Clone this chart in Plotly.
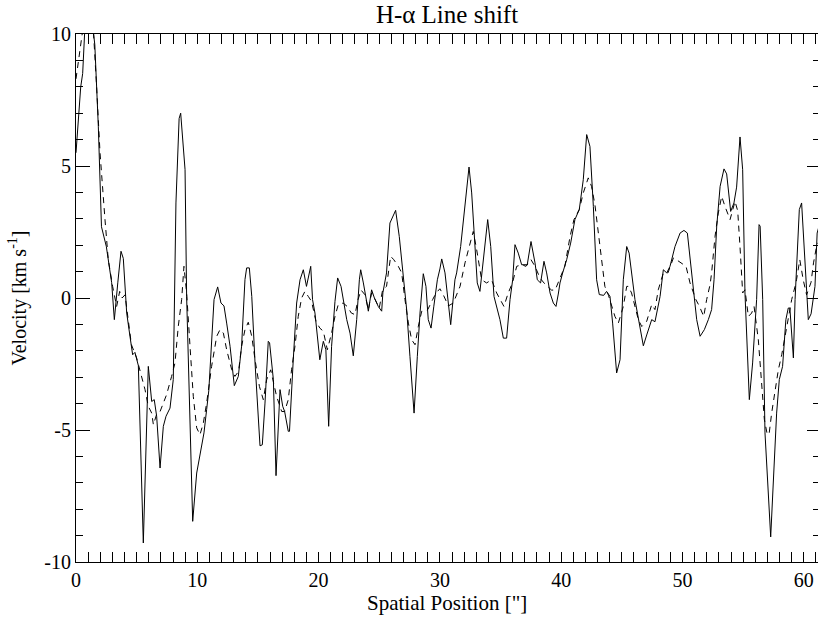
import plotly.graph_objects as go

# Solid line: observed H-alpha line shift
solid_x = [0.0, 0.2, 0.39, 0.55, 0.75, 1.0, 1.3, 1.55, 1.84, 2.1, 2.5, 2.94, 3.16, 3.45, 3.71, 3.9,
           4.18, 4.45, 4.67, 4.86, 5.14, 5.55, 5.96, 6.24, 6.45, 6.65, 6.93, 7.2, 7.42, 7.75, 8.02,
           8.24, 8.5, 8.63, 8.99, 9.12, 9.62, 9.95, 10.22, 10.55, 10.77, 10.95, 11.38, 11.68, 11.95,
           12.2, 12.42, 12.7, 13.05, 13.38, 13.65, 13.93, 14.07, 14.29, 14.49, 14.76, 15.17, 15.36,
           15.58, 15.85, 15.96, 16.27, 16.49, 16.82, 17.04, 17.2, 17.5, 17.6, 17.91, 18.19, 18.47,
           18.74, 19.0, 19.35, 19.5, 19.7, 20.1, 20.39, 20.6, 20.83, 21.07, 21.35, 21.57, 21.85,
           22.32, 22.59, 22.86, 23.14, 23.36, 23.47, 23.69, 23.8, 24.1, 24.37, 24.6, 24.92, 25.2,
           25.3, 25.6, 25.88, 26.1, 26.35, 26.65, 26.98, 27.26, 27.53, 27.87, 28.14, 28.36, 28.63,
           28.85, 29.04, 29.27, 29.5, 29.79, 30.0, 30.15, 30.42, 30.6, 30.89, 31.24, 31.38, 31.71,
           32.07, 32.4, 32.62, 32.89, 33.08, 33.3, 33.63, 33.94, 34.19, 34.46, 34.95, 35.23, 35.5,
           35.78, 36.0, 36.19, 36.46, 36.74, 37.2, 37.51, 37.84, 38.03, 38.3, 38.58, 38.8, 39.08,
           39.35, 39.57, 39.76, 39.9, 40.12, 40.45, 40.78, 41.13, 41.49, 41.82, 42.1, 42.37, 42.65,
           42.92, 43.14, 43.5, 43.74, 44.02, 44.24, 44.57, 44.85, 45.12, 45.4, 45.6, 46.08, 46.36,
           46.77, 47.05, 47.46, 47.73, 48.15, 48.42, 48.7, 48.97, 49.38, 49.8, 50.12, 50.4, 50.62,
           50.9, 51.17, 51.45, 51.8, 52.13, 52.4, 52.6, 52.82, 53.1, 53.42, 53.64, 53.97, 54.24,
           54.46, 54.74, 54.96, 55.15, 55.51, 55.78, 56.11, 56.31, 56.4, 56.61, 56.8, 57.27, 57.48,
           57.76, 57.98, 58.25, 58.52, 58.72, 58.85, 59.14, 59.28, 59.63, 59.82, 60.04, 60.23,
           60.37, 60.6, 60.92, 61.1, 61.3]
solid_y = [5.5, 7.0, 8.0, 8.5, 10.4, 10.8, 10.6, 9.6, 6.5, 2.7, 1.95, 0.58, -0.82, 0.6, 1.77, 1.5,
           -0.57, -1.45, -2.15, -2.06, -2.56, -9.28, -2.59, -3.92, -3.85, -4.48, -6.44, -4.86, -4.48,
           -4.17, -3.09, 3.6, 6.8, 7.0, 4.86, 0.06, -8.46, -6.63, -5.87, -5.11, -4.23, -3.5, -0.06,
           0.42, -0.19, -0.3, -0.95, -1.83, -3.32, -2.97, -1.83, 0.7, 1.14, 1.14, 0.06, -2.46, -5.6,
           -5.56, -3.98, -1.64, -1.7, -3.09, -6.73, -3.47, -4.1, -4.3, -5.05, -5.05, -2.34, -0.19,
           0.69, 1.07, 0.44, 1.2, -0.06, -0.57, -2.34, -1.64, -1.96, -4.86, -1.83, -0.13, 0.76, 0.44,
           -0.82, -1.33, -2.19, -0.82, 0.69, 1.07, 0.57, 0.3, -0.5, 0.31, 0.0, -0.32, -0.5, 0.2,
           0.95, 2.84, 3.1, 3.32, 2.33, 0.69, -0.44, -2.21, -4.36, -2.21, -0.57, 0.92, 0.44, -0.82,
           -1.14, -0.31, 0.69, 1.1, 1.48, 0.95, 0.2, -1.01, 0.69, 0.95, 1.95, 3.47, 4.96, 3.98, 1.7,
           0.57, 0.25, 1.7, 2.97, 1.95, 0.06, -0.82, -1.52, -1.52, -0.06, 0.69, 2.02, 1.7, 1.26,
           1.26, 2.14, 1.33, 0.69, 0.57, 1.39, 0.95, 0.19, -0.19, -0.32, 0.15, 0.57, 0.95, 1.45,
           2.08, 2.97, 3.35, 4.48, 6.19, 5.74, 3.47, 0.69, 0.13, 0.1, 0.25, 0.06, -0.95, -2.84,
           -2.34, 0.69, 1.95, 1.7, -0.06, -0.82, -1.81, -1.4, -0.82, -0.9, 0.06, 1.07, 0.95, 1.2,
           1.95, 2.46, 2.56, 2.46, 1.45, 0.44, -0.82, -1.45, -1.2, -0.82, -0.44, 0.69, 2.71, 4.23,
           4.89, 4.7, 3.28, 3.6, 4.2, 6.1, 4.86, 0.19, -3.85, -2.46, -0.06, 2.78, 2.72, -0.06,
           -5.11, -9.05, -6.88, -4.36, -3.09, -2.59, -0.82, -0.38, -0.38, -2.27, -0.06, 3.35, 3.6,
           1.7, 0.19, -0.82, -0.6, 0.44, 2.46, 2.8]

# Dashed line: comparison shift
dashed_x = [0.0, 0.3, 0.6, 1.0, 1.4, 1.7, 1.98, 2.39, 2.66, 3.02, 3.35, 3.6, 3.8, 4.04, 4.3, 4.57,
            5.0, 5.4, 5.69, 5.96, 6.24, 6.38, 6.65, 6.93, 7.2, 7.47, 7.88, 8.16, 8.43, 8.71, 8.9,
            9.12, 9.4, 9.67, 9.95, 10.22, 10.5, 10.77, 11.18, 11.6, 11.87, 12.15, 12.42, 12.84,
            13.1, 13.4, 13.65, 13.93, 14.2, 14.49, 14.76, 15.12, 15.44, 15.72, 16.05, 16.27, 16.54,
            16.96, 17.2, 17.5, 17.77, 18.05, 18.32, 18.6, 18.87, 19.15, 19.42, 19.78, 20.1, 20.39,
            20.72, 21.07, 21.35, 21.62, 22.02, 22.36, 22.7, 23.0, 23.25, 23.5, 23.83, 24.1, 24.37,
            24.6, 25.0, 25.28, 25.6, 25.94, 26.2, 26.57, 26.85, 27.12, 27.4, 27.67, 27.95, 28.22,
            28.5, 28.77, 29.0, 29.4, 29.7, 30.0, 30.3, 30.7, 31.1, 31.66, 32.07, 32.42, 32.75, 33.03,
            33.44, 33.85, 34.26, 34.68, 34.95, 35.28, 35.6, 36.0, 36.33, 36.74, 37.1, 37.51, 37.84,
            38.25, 38.58, 38.9, 39.2, 39.5, 39.76, 40.04, 40.3, 40.73, 41.05, 41.49, 41.82, 42.23,
            42.5, 42.78, 43.05, 43.33, 43.6, 43.9, 44.16, 44.43, 44.71, 45.12, 45.4, 45.54, 45.8,
            46.08, 46.36, 46.64, 47.05, 47.46, 47.73, 48.0, 48.42, 48.8, 49.25, 49.5, 49.93, 50.29,
            50.62, 50.9, 51.1, 51.4, 51.75, 51.99, 52.27, 52.4, 52.68, 52.95, 53.23, 53.5, 53.92,
            54.33, 54.55, 54.74, 54.96, 55.15, 55.43, 55.7, 55.9, 56.25, 56.52, 56.75, 56.99, 57.15,
            57.35, 57.63, 57.9, 58.18, 58.45, 58.72, 59.0, 59.28, 59.4, 59.67, 59.95, 60.23, 60.37,
            60.6, 60.8, 61.05, 61.3]
dashed_y = [8.3, 9.2, 10.3, 10.8, 10.4, 8.0, 5.5, 2.97, 1.45, 0.44, -0.32, 0.25, 0.0, 0.12, -0.82,
            -1.77, -2.27, -2.97, -3.47, -4.1, -4.36, -4.8, -4.4, -4.3, -4.0, -3.66, -2.97, -2.46,
            -1.08, -0.06, 1.2, 0.19, -1.83, -3.73, -4.92, -5.18, -4.73, -3.98, -2.59, -1.45, -1.2,
            -1.33, -1.96, -2.72, -2.97, -2.78, -1.83, -1.2, -0.92, -1.45, -2.34, -3.35, -3.85, -3.09,
            -2.72, -3.22, -3.73, -4.3, -4.3, -3.85, -2.72, -1.83, -0.7, 0.0, 0.25, 0.06, -0.13,
            -0.88, -1.14, -1.26, -1.96, -1.33, -0.7, -0.25, -0.19, -0.32, -0.57, -0.63, -0.06, 0.3,
            0.12, -0.44, 0.19, 0.0, -0.38, 0.31, 0.44, 1.58, 1.45, 1.2, 0.95, -0.06, -0.95, -1.58,
            -1.77, -1.08, -0.5, -0.5, -0.44, -0.06, 0.2, 0.35, 0.1, -0.3, -0.19, 0.44, 1.33, 1.95,
            2.52, 1.83, 0.69, 0.57, 0.69, 0.19, -0.06, -0.32, 0.15, 0.6, 1.2, 1.26, 1.2, 1.45, 1.2,
            0.76, 0.57, 0.44, 0.3, 0.3, 0.6, 0.95, 1.2, 2.33, 2.97, 3.35, 3.98, 4.55, 4.23, 3.53,
            2.46, 1.33, 0.44, 0.1, -0.32, -0.7, -0.95, -0.32, 0.44, 0.44, 0.19, -0.32, -0.82, -1.08,
            -0.88, -0.25, -0.44, 0.31, 0.95, 0.95, 1.52, 1.45, 1.33, 1.2, 0.57, 0.19, -0.06, -0.32,
            -0.7, -0.06, 0.5, 0.95, 2.33, 3.22, 3.85, 3.47, 2.97, 3.66, 3.3, 1.95, 0.19, 0.31, -0.7,
            -0.57, -0.32, -1.58, -3.09, -4.61, -5.18, -5.11, -4.36, -3.47, -2.72, -2.15, -1.45,
            -0.7, -0.06, 0.44, 0.69, 1.45, 0.69, 0.12, 0.3, 0.6, 1.33, 1.95, 2.2]

x_range = [0, 61.17]
y_range = [-10, 10]
x_ticks = [0, 10, 20, 30, 40, 50, 60]
y_ticks = [-10, -5, 0, 5, 10]

FONT = "Liberation Serif"

fig = go.Figure()
fig.add_trace(go.Scatter(x=solid_x, y=solid_y, mode="lines",
                         line=dict(color="black", width=1), showlegend=False))
fig.add_trace(go.Scatter(x=dashed_x, y=dashed_y, mode="lines",
                         line=dict(color="black", width=1, dash="6px,5px"), showlegend=False))
# empty trace to create the right-hand tick axis (ticks only, no line)
fig.add_trace(go.Scatter(x=[None], y=[None], yaxis="y2", mode="lines",
                         showlegend=False, hoverinfo="skip"))

fig.update_layout(
    width=818, height=620,
    margin=dict(l=76, r=0, t=34, b=58),
    paper_bgcolor="white", plot_bgcolor="white",
    font=dict(family=FONT, color="black", size=20),
    title=dict(text="H-α Line shift", x=447 / 818, xanchor="center",
               y=1 - 14 / 620, yanchor="middle", yref="container",
               font=dict(family=FONT, size=25, color="black")),
    yaxis2=dict(overlaying="y", side="right", matches="y", range=y_range,
                showline=False, showticklabels=False, showgrid=False, zeroline=False,
                tickvals=y_ticks, ticks="inside", ticklen=11, tickwidth=1, tickcolor="black",
                minor=dict(ticks="inside", ticklen=5, dtick=1, tick0=0,
                           tickcolor="black", tickwidth=1)),
    annotations=[dict(text="Spatial Position [\"]", xref="paper", yref="paper",
                      x=0.5, y=-41 / 528, xanchor="center", yanchor="middle",
                      showarrow=False, font=dict(family=FONT, size=21, color="black"))],
)
fig.layout.xaxis.update(
    range=x_range, tickvals=x_ticks, ticktext=[str(v) for v in x_ticks],
    showline=True, linecolor="black", linewidth=1, mirror="allticks",
    ticks="inside", ticklen=10, tickwidth=1, tickcolor="black",
    minor=dict(ticks="inside", ticklen=5, dtick=1, tick0=0, tickcolor="black", tickwidth=1),
    showgrid=False, zeroline=False,
    tickfont=dict(family=FONT, size=20, color="black"),
)
fig.layout.yaxis.update(
    range=y_range, tickvals=y_ticks, ticktext=[str(v) for v in y_ticks],
    showline=True, linecolor="black", linewidth=1, mirror=False,
    ticks="inside", ticklen=14, tickwidth=1, tickcolor="black",
    minor=dict(ticks="inside", ticklen=7, dtick=1, tick0=0, tickcolor="black", tickwidth=1),
    showgrid=False, zeroline=False,
    tickfont=dict(family=FONT, size=20, color="black"),
    title=dict(text="Velocity [km s<sup>-1</sup>]", font=dict(family=FONT, size=20, color="black"),
               standoff=12),
)

fig.write_html("out.html")
